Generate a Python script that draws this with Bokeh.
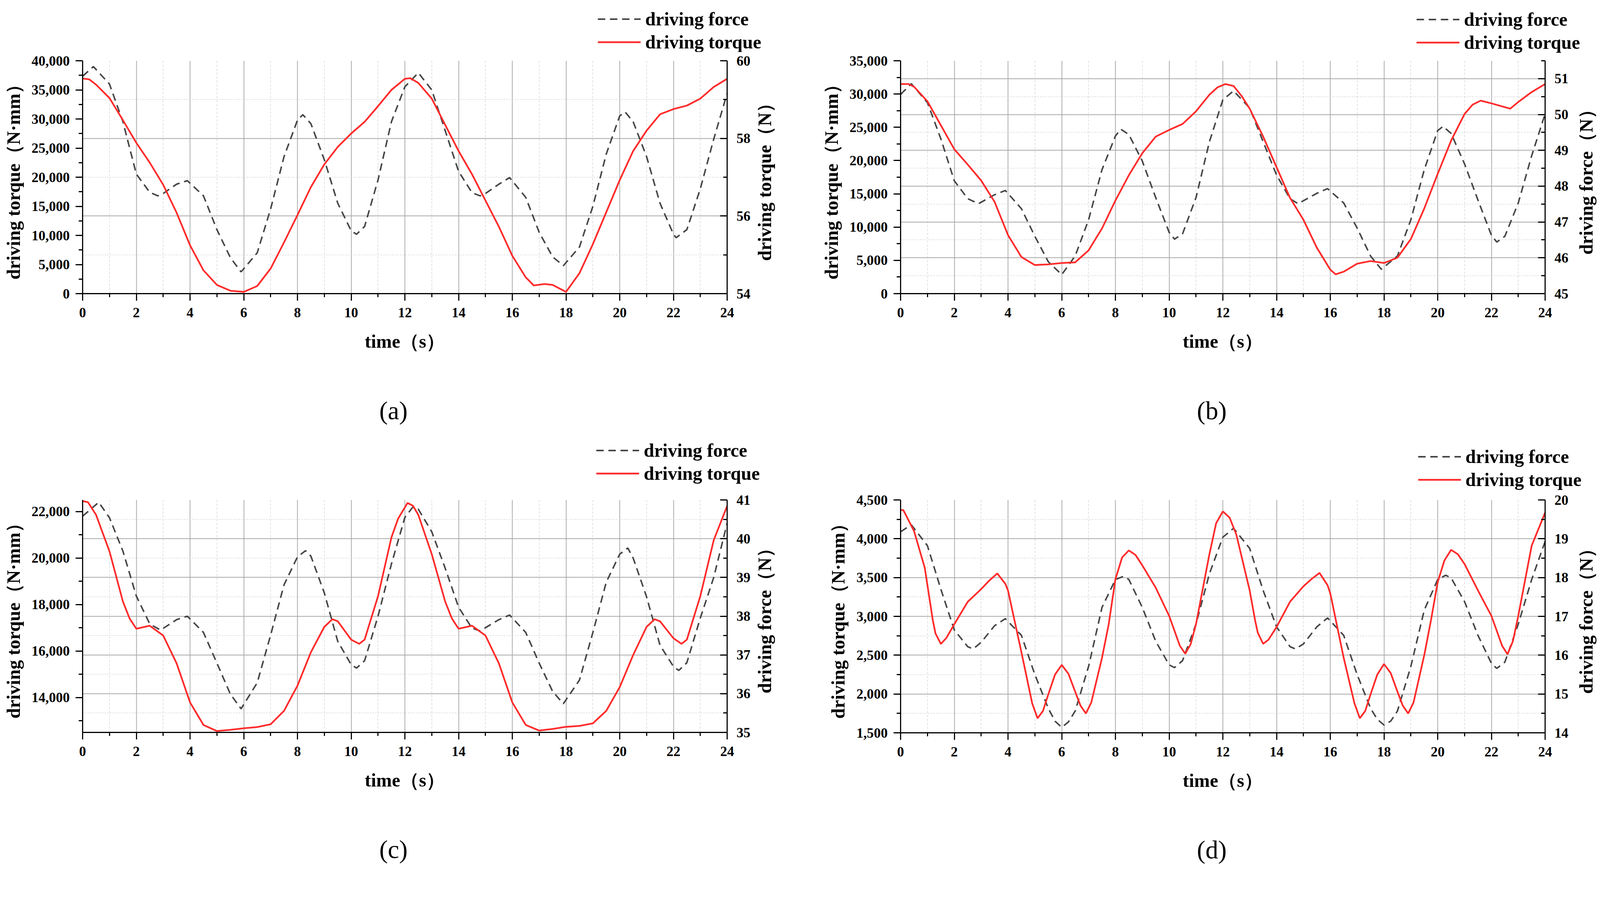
from math import pi
from bokeh.plotting import figure
from bokeh.models import (Range1d, LinearAxis, FixedTicker, NumeralTickFormatter,
                          Grid, Legend, LegendItem, Label)
from bokeh.layouts import row, column
from bokeh.embed import file_html
from bokeh.resources import INLINE

# ---------------- data ----------------
# panel (a)
t_a_torque = [0, 0.25, 0.5, 1, 1.5, 2, 2.5, 3, 3.5, 4, 4.5, 5, 5.5, 6, 6.5, 7, 7.5, 8, 8.5, 9,
              9.5, 10, 10.5, 11, 11.5, 12, 12.2, 12.5, 13, 13.5, 14, 14.5, 15, 15.5, 16, 16.5,
              16.8, 17.2, 17.5, 18, 18.5, 19, 19.5, 20, 20.5, 21, 21.5, 22, 22.5, 23, 23.5, 24]
a_torque = [36950, 36800, 35900, 33600, 29800, 25900, 22500, 18700, 13900, 8300, 4000, 1500,
            500, 300, 1300, 4300, 8800, 13500, 18300, 22200, 25200, 27500, 29500, 32200, 35000,
            36900, 37000, 36200, 33500, 29000, 24500, 20500, 16000, 11500, 6500, 2800, 1400,
            1650, 1500, 300, 3500, 8500, 14000, 19500, 24500, 28000, 30800, 31700, 32300, 33500,
            35500, 36900]
t_a_force = [0, 0.4, 1, 1.5, 2, 2.5, 2.8, 3, 3.5, 3.9, 4.5, 5, 5.5, 5.9, 6.5, 7, 7.5, 8, 8.2,
             8.5, 9, 9.5, 10, 10.2, 10.5, 11, 11.5, 12, 12.5, 13, 13.5, 14, 14.5, 14.8, 15,
             15.5, 15.9, 16.5, 17, 17.5, 17.9, 18.5, 19, 19.5, 20, 20.2, 20.5, 21, 21.5, 22,
             22.1, 22.5, 23, 23.5, 24]
a_force = [59.60, 59.85, 59.40, 58.43, 57.08, 56.61, 56.52, 56.58, 56.82, 56.91, 56.52, 55.65,
           54.93, 54.56, 55.05, 56.18, 57.53, 58.47, 58.61, 58.38, 57.45, 56.33, 55.62, 55.53,
           55.73, 56.93, 58.43, 59.33, 59.69, 59.25, 58.20, 57.15, 56.60, 56.52, 56.58, 56.82,
           56.99, 56.48, 55.58, 54.95, 54.72, 55.20, 56.25, 57.60, 58.58, 58.68, 58.43, 57.53,
           56.33, 55.53, 55.44, 55.65, 56.70, 57.98, 59.16]

# panel (b)
t_b_torque = [0, 0.3, 0.5, 1, 1.5, 2, 2.5, 3, 3.5, 4, 4.5, 5, 5.5, 6, 6.5, 7, 7.5, 8, 8.5, 9,
              9.5, 10, 10.5, 11, 11.5, 11.8, 12.1, 12.4, 12.7, 13, 13.5, 14, 14.5, 15, 15.5,
              16, 16.2, 16.5, 17, 17.5, 18, 18.5, 19, 19.5, 20, 20.5, 21, 21.3, 21.6, 22, 22.7,
              23, 23.5, 24]
b_torque = [31500, 31500, 31100, 28900, 25300, 21700, 19400, 17000, 13800, 8800, 5500, 4300,
            4400, 4600, 4700, 6500, 9800, 14000, 17800, 21100, 23600, 24600, 25500, 27400,
            29900, 31000, 31500, 31200, 29700, 27800, 23600, 19000, 14400, 11100, 6900, 3600,
            2900, 3300, 4500, 4900, 4600, 5400, 8200, 12800, 18000, 23000, 27000, 28400, 29000,
            28600, 27800, 28800, 30300, 31500]
t_b_force = [0, 0.4, 1, 1.5, 2, 2.5, 2.9, 3.5, 3.9, 4.5, 5, 5.5, 6, 6.5, 7, 7.5, 8, 8.2, 8.5,
             9, 9.5, 10, 10.2, 10.5, 11, 11.5, 12, 12.4, 13, 13.5, 14, 14.5, 14.8, 15.5, 15.9,
             16.5, 17, 17.5, 17.9, 18.5, 19, 19.5, 20, 20.2, 20.5, 21, 21.5, 22, 22.2, 22.5, 23,
             23.5, 24]
b_force = [50.56, 50.86, 50.33, 49.32, 48.15, 47.65, 47.51, 47.76, 47.88, 47.37, 46.60, 45.89,
           45.53, 46.05, 47.06, 48.46, 49.40, 49.59, 49.44, 48.70, 47.68, 46.71, 46.52, 46.67,
           47.68, 49.24, 50.41, 50.66, 50.18, 49.24, 48.31, 47.65, 47.51, 47.80, 47.93, 47.53,
           46.83, 46.05, 45.68, 46.05, 47.06, 48.46, 49.55, 49.67, 49.47, 48.62, 47.61, 46.63,
           46.44, 46.60, 47.53, 48.85, 50.02]

# panel (c)
t_c_torque = [0, 0.2, 0.5, 1, 1.5, 1.75, 2, 2.5, 3, 3.5, 4, 4.5, 5, 5.5, 6, 6.5, 7, 7.5, 8, 8.5,
              9, 9.3, 9.5, 10, 10.3, 10.5, 11, 11.5, 11.75, 12.1, 12.3, 12.5, 13, 13.5, 13.75,
              14, 14.5, 15, 15.5, 16, 16.5, 17, 17.5, 18, 18.5, 19, 19.5, 20, 20.5, 21, 21.3,
              21.5, 22, 22.3, 22.5, 23, 23.5, 24]
c_torque = [22450, 22400, 21860, 20290, 18130, 17400, 16960, 17090, 16670, 15470, 13790, 12820,
            12560, 12610, 12680, 12730, 12850, 13430, 14510, 15950, 17040, 17370, 17280, 16490,
            16310, 16490, 18360, 20890, 21700, 22370, 22250, 21860, 20170, 18130, 17400, 16960,
            17090, 16670, 15470, 13790, 12820, 12580, 12650, 12740, 12780, 12890, 13430, 14450,
            15830, 17040, 17370, 17280, 16550, 16310, 16490, 18360, 20770, 22240]
t_c_force = [0, 0.6, 1, 1.5, 2, 2.5, 2.9, 3.5, 3.9, 4.5, 5, 5.5, 5.9, 6.5, 7, 7.5, 8, 8.3, 8.5,
             9, 9.5, 10, 10.2, 10.5, 11, 11.5, 12, 12.3, 12.5, 13, 13.5, 14, 14.5, 14.8, 15.5,
             15.9, 16.5, 17, 17.5, 17.9, 18.5, 19, 19.5, 20, 20.3, 20.5, 21, 21.5, 22, 22.2,
             22.5, 23, 23.5, 24]
c_force = [40.58, 40.94, 40.54, 39.68, 38.52, 37.80, 37.64, 37.91, 38.00, 37.58, 36.79, 35.99,
           35.61, 36.28, 37.51, 38.81, 39.53, 39.69, 39.55, 38.60, 37.35, 36.75, 36.66, 36.85,
           38.00, 39.35, 40.55, 40.82, 40.76, 40.18, 39.24, 38.23, 37.69, 37.62, 37.91, 38.03,
           37.58, 36.79, 36.06, 35.74, 36.35, 37.58, 38.88, 39.60, 39.76, 39.50, 38.50, 37.25,
           36.70, 36.60, 36.80, 37.95, 39.00, 40.40]

# panel (d)
t_d_torque = [0, 0.1, 0.5, 0.9, 1.2, 1.3, 1.5, 1.7, 2, 2.5, 3, 3.3, 3.6, 3.9, 4, 4.5, 4.9, 5.1,
              5.3, 5.5, 5.75, 6, 6.25, 6.5, 6.7, 6.9, 7.1, 7.5, 7.75, 8, 8.25, 8.5, 8.75, 9,
              9.5, 10, 10.4, 10.6, 10.8, 11, 11.5, 11.75, 12, 12.25, 12.5, 13, 13.2, 13.3, 13.5,
              13.7, 14, 14.5, 15, 15.3, 15.6, 15.9, 16, 16.5, 16.9, 17.1, 17.3, 17.5, 17.75, 18,
              18.25, 18.5, 18.7, 18.9, 19.1, 19.5, 19.75, 20, 20.25, 20.5, 20.75, 21, 21.5, 22,
              22.4, 22.6, 22.8, 23, 23.5, 24]
d_torque = [4370, 4370, 4100, 3626, 2950, 2780, 2645, 2720, 2899, 3188, 3351, 3460, 3553, 3420,
            3333, 2537, 1880, 1688, 1780, 1995, 2250, 2375, 2260, 2031, 1850, 1749, 1890, 2465,
            2900, 3480, 3760, 3849, 3790, 3657, 3369, 3007, 2620, 2519, 2640, 2899, 3802, 4200,
            4352, 4272, 4056, 3333, 2950, 2790, 2646, 2700, 2863, 3188, 3387, 3480, 3560, 3400,
            3297, 2466, 1880, 1688, 1780, 1995, 2250, 2386, 2270, 2031, 1850, 1749, 1890, 2501,
            2950, 3441, 3720, 3857, 3800, 3675, 3333, 3007, 2620, 2512, 2680, 3007, 3911, 4337]
t_d_force = [0, 0.4, 1, 1.5, 2, 2.5, 2.7, 3, 3.5, 3.9, 4.5, 5, 5.5, 5.75, 6, 6.25, 6.5, 7, 7.5,
             8, 8.3, 8.5, 9, 9.5, 10, 10.2, 10.5, 11, 11.5, 12, 12.4, 13, 13.5, 14, 14.5, 14.7,
             15, 15.5, 15.9, 16.5, 17, 17.5, 17.75, 18, 18.25, 18.5, 19, 19.5, 20, 20.3, 20.5,
             21, 21.5, 22, 22.2, 22.5, 23, 23.5, 24]
d_force = [19.18, 19.36, 18.82, 17.70, 16.65, 16.22, 16.16, 16.33, 16.76, 16.94, 16.51, 15.50,
           14.63, 14.30, 14.14, 14.28, 14.56, 15.71, 17.23, 17.95, 18.03, 17.95, 17.23, 16.36,
           15.75, 15.68, 15.86, 16.80, 18.10, 19.04, 19.27, 18.75, 17.67, 16.73, 16.22, 16.16,
           16.29, 16.73, 16.96, 16.51, 15.50, 14.63, 14.35, 14.20, 14.30, 14.56, 15.71, 17.16,
           17.95, 18.06, 17.99, 17.38, 16.51, 15.79, 15.66, 15.82, 16.80, 17.95, 18.93]

x_ticks = [0, 2, 4, 6, 8, 10, 12, 14, 16, 18, 20, 22, 24]
x_minor = [1, 3, 5, 7, 9, 11, 13, 15, 17, 19, 21, 23]
legend_labels = ["driving force", "driving torque"]

panels = [
    dict(cap="(a)", t_tq=t_a_torque, tq=a_torque, t_f=t_a_force, f=a_force,
         left=(0, 40000), left_ticks=[0, 5000, 10000, 15000, 20000, 25000, 30000, 35000, 40000],
         left_minor=[2500, 7500, 12500, 17500, 22500, 27500, 32500, 37500],
         right=(54, 60), right_ticks=[54, 56, 58, 60], right_minor=[55, 57, 59],
         grid_major=[56, 58], grid_minor=[55, 57, 59],
         right_label="driving torque（N）",
         legend_h=138, main_top=23, legend_xy=(1591, -2)),
    dict(cap="(b)", t_tq=t_b_torque, tq=b_torque, t_f=t_b_force, f=b_force,
         left=(0, 35000), left_ticks=[0, 5000, 10000, 15000, 20000, 25000, 30000, 35000],
         left_minor=[2500, 7500, 12500, 17500, 22500, 27500, 32500],
         right=(45, 51.5), right_ticks=[45, 46, 47, 48, 49, 50, 51],
         right_minor=[45.5, 46.5, 47.5, 48.5, 49.5, 50.5, 51.5],
         grid_major=[46, 47, 48, 49, 50, 51], grid_minor=[45.5, 46.5, 47.5, 48.5, 49.5, 50.5],
         right_label="driving force（N）",
         legend_h=140, main_top=21, legend_xy=(1592, -1.5)),
    dict(cap="(c)", t_tq=t_c_torque, tq=c_torque, t_f=t_c_force, f=c_force,
         left=(12500, 22500), left_ticks=[14000, 16000, 18000, 20000, 22000],
         left_minor=[13000, 15000, 17000, 19000, 21000],
         right=(35, 41), right_ticks=[35, 36, 37, 38, 39, 40, 41],
         right_minor=[35.5, 36.5, 37.5, 38.5, 39.5, 40.5],
         grid_major=[36, 37, 38, 39, 40], grid_minor=[35.5, 36.5, 37.5, 38.5, 39.5, 40.5],
         right_label="driving force（N）",
         legend_h=132, main_top=29, legend_xy=(1587, 12.5)),
    dict(cap="(d)", t_tq=t_d_torque, tq=d_torque, t_f=t_d_force, f=d_force,
         left=(1500, 4500), left_ticks=[1500, 2000, 2500, 3000, 3500, 4000, 4500],
         left_minor=[1750, 2250, 2750, 3250, 3750, 4250],
         right=(14, 20), right_ticks=[14, 15, 16, 17, 18, 19, 20],
         right_minor=[14.5, 15.5, 16.5, 17.5, 18.5, 19.5],
         grid_major=[15, 16, 17, 18, 19], grid_minor=[14.5, 15.5, 16.5, 17.5, 18.5, 19.5],
         right_label="driving force（N）",
         legend_h=138, main_top=23, legend_xy=(1596, 2)),
]

# ---------------- styling ----------------
S = 1 / 1.04           # picture pixels -> CSS pixels


def z(v):
    return int(round(v * S))


def fs(v):
    return f"{v * S:.1f}px"


FONT = "Liberation Serif"
RED = "#FF2B2B"
GREY = "#454545"
DASH = f"{z(20)} {z(12)}"
FRAME_H, MAIN_BOTTOM = 619, 200
MAIN_RIGHT = 64


def style_axis(ax):
    ax.axis_line_width = 3 * S
    ax.axis_line_color = "black"
    ax.major_tick_line_width = 3 * S
    ax.minor_tick_line_width = 3 * S
    ax.major_tick_line_color = "black"
    ax.minor_tick_line_color = "black"
    ax.major_label_text_font = FONT
    ax.major_label_text_font_style = "bold"
    ax.major_label_text_font_size = fs(37)
    ax.major_label_text_color = "black"
    ax.axis_label_text_font = FONT
    ax.axis_label_text_font_style = "bold"
    ax.axis_label_text_font_size = fs(50)
    ax.axis_label_text_color = "black"


def blank_fig(width, height, x_range=(0, 1), y_range=(0, 1), top=0, bottom=0):
    f = figure(width=z(width), height=z(height), output_backend="svg", toolbar_location=None,
               title=None, x_axis_type=None, y_axis_type=None,
               x_range=Range1d(*x_range), y_range=Range1d(*y_range),
               min_border=0, min_border_left=0, min_border_right=0,
               min_border_top=z(top), min_border_bottom=z(bottom))
    f.outline_line_color = None
    f.background_fill_color = "white"
    f.border_fill_color = "white"
    return f


def legend_fig(spec, width):
    # the series are drawn far outside this strip's visible range; only the legend shows
    f = blank_fig(width, spec["legend_h"], x_range=(0, 24), y_range=(-1e9, -1e9 + 1))
    r1 = f.line(spec["t_f"], spec["f"], line_color=GREY, line_width=4 * S, line_dash=DASH)
    r2 = f.line(spec["t_tq"], spec["tq"], line_color=RED, line_width=4.5 * S)
    lx, ly = spec["legend_xy"]
    legend = Legend(items=[LegendItem(label=legend_labels[0], renderers=[r1]),
                           LegendItem(label=legend_labels[1], renderers=[r2])],
                    location=(lx * S, ly * S), padding=0, margin=0, spacing=z(4),
                    glyph_width=z(114), glyph_height=z(57), label_height=z(57),
                    label_standoff=z(12),
                    label_text_font=FONT, label_text_font_style="bold",
                    label_text_font_size=fs(50), label_text_color="black",
                    background_fill_alpha=0, border_line_alpha=0)
    f.add_layout(legend, "center")
    return f


def caption_fig(spec, width, height, cy):
    f = blank_fig(width, height)
    f.add_layout(Label(x=1047 * S, y=cy * S, x_units="screen", y_units="screen",
                       text=spec["cap"], text_align="center", text_baseline="middle",
                       text_font=FONT, text_font_size=fs(68), text_color="black"))
    return f


def rlabel_fig(spec, width, cx):
    top = spec["main_top"]
    f = blank_fig(width, top + FRAME_H + MAIN_BOTTOM, top=top, bottom=MAIN_BOTTOM)
    f.add_layout(Label(x=cx * S, y=FRAME_H / 2 * S, x_units="screen", y_units="screen",
                       text=spec["right_label"], angle=pi / 2, text_align="center",
                       text_baseline="middle", text_font=FONT, text_font_style="bold",
                       text_font_size=fs(50), text_color="black"))
    return f


def main_fig(spec, mbl):
    top = spec["main_top"]
    width = mbl + 1718 + MAIN_RIGHT
    p = figure(width=z(width), height=z(top + FRAME_H + MAIN_BOTTOM), output_backend="svg",
               toolbar_location=None, title=None,
               x_range=Range1d(0, 24), y_range=Range1d(*spec["left"]),
               min_border_left=z(mbl), min_border_right=z(MAIN_RIGHT),
               min_border_top=z(top), min_border_bottom=z(MAIN_BOTTOM),
               x_axis_label="time（s）", y_axis_label="driving torque（N·mm）")
    p.extra_y_ranges = {"right": Range1d(*spec["right"])}
    p.outline_line_color = None
    p.background_fill_color = "white"
    p.border_fill_color = "white"
    p.xgrid.visible = False
    p.ygrid.visible = False

    vgrid = Grid(dimension=0, ticker=FixedTicker(ticks=x_ticks[1:-1], minor_ticks=x_minor),
                 grid_line_color="#A8A8A8", grid_line_width=2 * S,
                 minor_grid_line_color="#D6D6D6", minor_grid_line_width=1.5 * S,
                 minor_grid_line_dash="6 4")
    hgrid = Grid(dimension=1, y_range_name="right",
                 ticker=FixedTicker(ticks=spec["grid_major"], minor_ticks=spec["grid_minor"]),
                 grid_line_color="#A8A8A8", grid_line_width=2 * S,
                 minor_grid_line_color="#D6D6D6", minor_grid_line_width=1.5 * S,
                 minor_grid_line_dash="4 3")
    p.add_layout(vgrid)
    p.add_layout(hgrid)

    xa = p.xaxis[0]
    style_axis(xa)
    xa.ticker = FixedTicker(ticks=x_ticks, minor_ticks=x_minor)
    xa.major_tick_out = z(19)
    xa.major_tick_in = 0
    xa.minor_tick_out = z(9)
    xa.minor_tick_in = 0
    xa.major_label_standoff = z(19)
    xa.axis_label_standoff = z(33)

    ya = p.yaxis[0]
    style_axis(ya)
    ya.ticker = FixedTicker(ticks=spec["left_ticks"], minor_ticks=spec["left_minor"])
    ya.formatter = NumeralTickFormatter(format="0,0")
    ya.major_tick_out = z(19)
    ya.major_tick_in = 0
    ya.minor_tick_out = z(10)
    ya.minor_tick_in = 0
    ya.major_label_standoff = z(16)
    ya.axis_label_standoff = z(18)

    ra = LinearAxis(y_range_name="right",
                    ticker=FixedTicker(ticks=spec["right_ticks"], minor_ticks=spec["right_minor"]))
    style_axis(ra)
    ra.major_tick_out = 0
    ra.major_tick_in = z(19)
    ra.minor_tick_out = 0
    ra.minor_tick_in = z(10)
    ra.major_label_standoff = z(25)
    p.add_layout(ra, "right")

    p.line(spec["t_f"], spec["f"], y_range_name="right", line_color=GREY,
           line_width=4 * S, line_dash=DASH)
    p.line(spec["t_tq"], spec["tq"], line_color=RED, line_width=4.5 * S)
    return p, width


def panel(spec, total_w, mbl, rl_cx, cap_h, cap_cy):
    mp, mw = main_fig(spec, mbl)
    rl = rlabel_fig(spec, total_w - mw, rl_cx)
    return column(row(legend_fig(spec, total_w)),
                  row(mp, rl),
                  row(caption_fig(spec, total_w, cap_h, cap_cy)))


WA, WB = 2179, 2076
top_row = row(panel(panels[0], WA, 219, 34, 188, 76),
              panel(panels[1], WB, 218, 44, 188, 76))
bottom_row = row(panel(panels[2], WA, 219, 34, 150, 38),
                 panel(panels[3], WB, 218, 44, 150, 38))

layout = column(top_row, bottom_row)
open("out.html", "w").write(file_html(layout, INLINE))
